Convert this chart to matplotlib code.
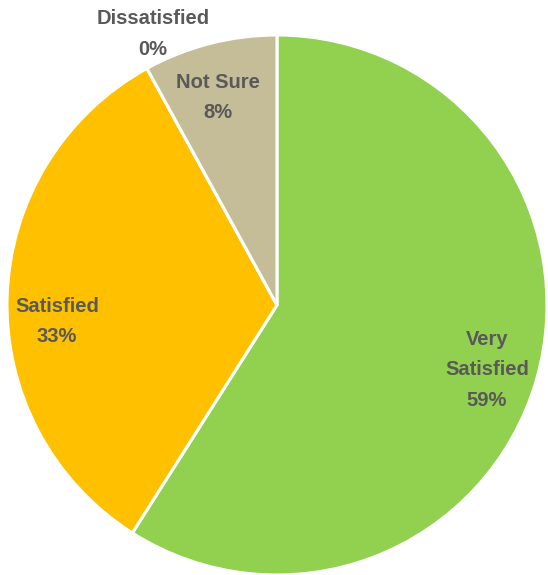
import numpy as np
import matplotlib
matplotlib.use("Agg")
import matplotlib.pyplot as plt

# survey answers, clockwise from the top
categories = ["Very\nSatisfied", "Satisfied", "Dissatisfied", "Not Sure"]
shares = [59, 33, 0, 8]
colors = ["#92D050", "#FFC000", "#A5A5A5", "#C4BD97"]

# label placement: angle nudge (deg) and distance from centre (in radii)
label_nudge = [-1.0, 6.0, -4.2, 1.4]
label_dist = [0.814, 0.817, 1.104, 0.80]

W, H = 548, 575
fig = plt.figure(figsize=(W / 100, H / 100), dpi=100)
ax = fig.add_axes([0, 0, 1, 1])

cx, cy, r = 277, 270, 270
wedges, _ = ax.pie(shares, colors=colors, startangle=90, counterclock=False,
                   center=(cx, cy), radius=r, frame=True,
                   wedgeprops=dict(edgecolor="white", linewidth=2.2))
ax.set_xlim(0, W)
ax.set_ylim(0, H)
ax.set_aspect("equal")
ax.axis("off")

for w, name, val, nudge, dist in zip(wedges, categories, shares, label_nudge, label_dist):
    mid = np.deg2rad((w.theta1 + w.theta2) / 2 + nudge)
    x = cx + dist * r * np.cos(mid)
    y = cy + dist * r * np.sin(mid)
    ax.text(x, y, f"{name}\n{val}%", ha="center", va="center",
            fontsize=14.5, fontweight="bold", family="Liberation Sans",
            color="#595959", linespacing=1.75)

fig.savefig("out.png", dpi=100)
